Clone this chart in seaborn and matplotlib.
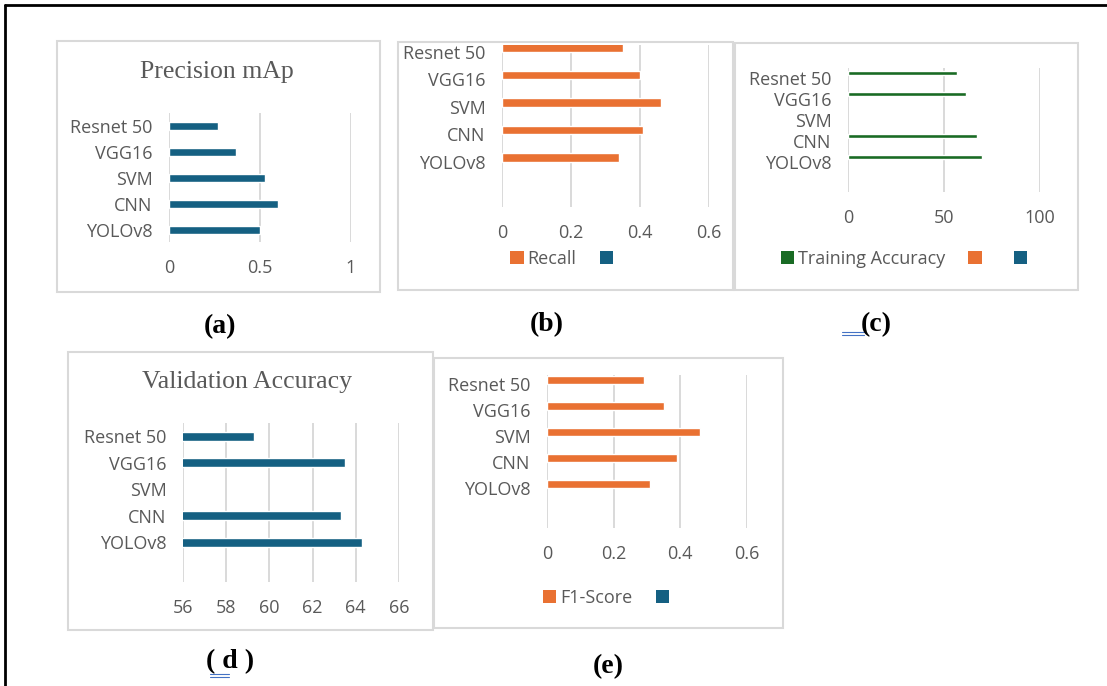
import matplotlib

matplotlib.use("Agg")

import matplotlib.pyplot as plt
import numpy as np
import pandas as pd
import seaborn as sns
from matplotlib.lines import Line2D
from matplotlib.patches import Patch, Rectangle

W, H = 1107, 686

BLUE = "#156082"
ORANGE = "#E97132"
GREEN = "#196B24"
GRAY_TEXT = "#595959"
GRID = "#d9d9d9"

models = ["Resnet 50", "VGG16", "SVM", "CNN", "YOLOv8"]
precision_map = [0.27, 0.37, 0.53, 0.60, 0.50]
recall = [0.35, 0.40, 0.46, 0.41, 0.34]
training_acc = [57, 61.5, np.nan, 67, 70]
validation_acc = [59.3, 63.5, np.nan, 63.3, 64.3]
f1_score = [0.29, 0.35, 0.46, 0.39, 0.31]

ticks_a = [0, 0.5, 1]
ticks_b = [0, 0.2, 0.4, 0.6]
ticks_c = [0, 50, 100]
ticks_d = [56, 58, 60, 62, 64, 66]
ticks_e = [0, 0.2, 0.4, 0.6]


def fig_box(x0, y0, x1, y1):
    return [x0 / W, 1 - y1 / H, (x1 - x0) / W, (y1 - y0) / H]


def fx(x):
    return x / W


def fy(y):
    return 1 - y / H


def long_frame(values, series_names):
    rows = []
    for i, name in enumerate(series_names):
        for m, v in zip(models, values):
            rows.append({"Modelo": m, "Serie": name, "Valor": v if i == 0 else np.nan})
    return pd.DataFrame(rows)


def style_axis(ax, ticks, xlim, ylim):
    ax.set_xlim(*xlim)
    ax.set_ylim(*ylim)
    ax.set_xticks(ticks)
    ax.set_xticklabels([f"{t:g}" for t in ticks])
    ax.set_xlabel("")
    ax.set_ylabel("")
    ax.set_facecolor("none")
    for side in ["top", "right", "bottom", "left"]:
        ax.spines[side].set_visible(False)
    ax.xaxis.grid(True, color=GRID, linewidth=1.4)
    ax.yaxis.grid(False)
    ax.set_axisbelow(True)
    ax.tick_params(axis="both", length=0, labelsize=13, colors=GRAY_TEXT)
    ax.tick_params(axis="y", pad=12)
    ax.tick_params(axis="x", pad=12)


def add_legend(ax, labels, colors, cx, cy):
    handles = [Patch(facecolor=c, edgecolor="none") for c in colors]
    ax.legend(
        handles=handles,
        labels=labels,
        loc="center",
        bbox_to_anchor=(fx(cx), fy(cy)),
        bbox_transform=ax.figure.transFigure,
        ncol=len(labels),
        frameon=False,
        handlelength=0.75,
        handleheight=0.75,
        handletextpad=0.2,
        columnspacing=1.3,
        fontsize=13,
        labelcolor=GRAY_TEXT,
    )


def main() -> None:
    sns.set_theme(style="white")
    plt.rcParams["font.family"] = ["Open Sans", "DejaVu Sans"]

    fig = plt.figure(figsize=(W / 100, H / 100), dpi=100)

    # cajas de cada panel
    panel_boxes = [
        (57, 41, 380, 292),
        (398, 42, 733, 290),
        (735, 43, 1078, 290),
        (68, 352, 433, 630),
        (434, 358, 783, 628),
    ]
    for x0, y0, x1, y1 in panel_boxes:
        fig.add_artist(
            Rectangle(
                (x0 / W, 1 - y1 / H),
                (x1 - x0) / W,
                (y1 - y0) / H,
                transform=fig.transFigure,
                fill=False,
                edgecolor=GRID,
                linewidth=1.5,
            )
        )

    # marco exterior
    fig.add_artist(Line2D([fx(5), 1], [fy(5), fy(5)], color="black", linewidth=2, transform=fig.transFigure))
    fig.add_artist(Line2D([fx(5), fx(5)], [0, fy(5)], color="black", linewidth=2, transform=fig.transFigure))

    # (a) Precision mAp
    df_a = pd.DataFrame({"Modelo": models, "Valor": precision_map})
    ax_a = fig.add_axes(fig_box(169, 113, 351, 242))
    sns.barplot(data=df_a, x="Valor", y="Modelo", orient="h", color=BLUE, width=0.34, ax=ax_a, saturation=1)
    style_axis(ax_a, ticks_a, (0, 1), (4.46, -0.5))
    fig.text(fx(217), fy(72), "Precision mAp", ha="center", va="center",
             fontsize=18.5, color=GRAY_TEXT, family="Liberation Serif")

    # (b) Recall
    df_b = long_frame(recall, ["Recall", "Serie 2"])
    ax_b = fig.add_axes(fig_box(502, 45, 709, 207))
    sns.barplot(data=df_b, x="Valor", y="Modelo", hue="Serie", hue_order=["Recall", "Serie 2"],
                palette={"Recall": ORANGE, "Serie 2": BLUE}, orient="h", width=0.64,
                legend=False, ax=ax_b, saturation=1)
    style_axis(ax_b, ticks_b, (0, 0.6), (5.64, -0.25))
    add_legend(ax_b, ["Recall", " "], [ORANGE, BLUE], 566, 259)

    # (c) Training Accuracy
    df_c = long_frame(training_acc, ["Training Accuracy", "Serie 2", "Serie 3"])
    ax_c = fig.add_axes(fig_box(848, 68, 1040, 192))
    sns.barplot(data=df_c, x="Valor", y="Modelo", hue="Serie",
                hue_order=["Training Accuracy", "Serie 2", "Serie 3"],
                palette={"Training Accuracy": GREEN, "Serie 2": ORANGE, "Serie 3": BLUE},
                orient="h", width=0.66, legend=False, ax=ax_c, saturation=1)
    style_axis(ax_c, ticks_c, (0, 100), (5.44, -0.46))
    add_legend(ax_c, ["Training Accuracy", " ", " "], [GREEN, ORANGE, BLUE], 908, 259)

    # (d) Validation Accuracy
    df_d = pd.DataFrame({"Modelo": models, "Valor": validation_acc})
    ax_d = fig.add_axes(fig_box(183, 423, 399, 582))
    sns.barplot(data=df_d, x="Valor", y="Modelo", orient="h", color=BLUE, width=0.34, ax=ax_d, saturation=1)
    style_axis(ax_d, ticks_d, (56, 66), (5.5, -0.5))
    fig.text(fx(247), fy(382), "Validation Accuracy", ha="center", va="center",
             fontsize=18.5, color=GRAY_TEXT, family="Liberation Serif")

    # (e) F1-Score
    df_e = long_frame(f1_score, ["F1-Score", "Serie 2"])
    ax_e = fig.add_axes(fig_box(547, 375, 747, 528))
    sns.barplot(data=df_e, x="Valor", y="Modelo", hue="Serie", hue_order=["F1-Score", "Serie 2"],
                palette={"F1-Score": ORANGE, "Serie 2": BLUE}, orient="h", width=0.6,
                legend=False, ax=ax_e, saturation=1)
    style_axis(ax_e, ticks_e, (0, 0.6), (5.54, -0.35))
    add_legend(ax_e, ["F1-Score", " "], [ORANGE, BLUE], 610, 598)

    # etiquetas de los paneles
    captions = [("(a)", 220, 327), ("(b)", 547, 325), ("(c)", 876, 325), ("( d )", 230, 662), ("(e)", 608, 667)]
    for text, x, y in captions:
        fig.text(fx(x), fy(y), text, ha="center", va="center", fontsize=20,
                 fontweight="bold", color="black", family="Liberation Serif")

    # subrayados azules del documento original
    for y in (332, 335):
        fig.add_artist(Line2D([fx(842), fx(864)], [fy(y), fy(y)], color="#4472C4",
                              linewidth=0.8, transform=fig.transFigure))
    for y in (674, 677):
        fig.add_artist(Line2D([fx(210), fx(229)], [fy(y), fy(y)], color="#4472C4",
                              linewidth=0.8, transform=fig.transFigure))

    fig.savefig("out.png", dpi=100)
    plt.close(fig)


if __name__ == "__main__":
    main()
